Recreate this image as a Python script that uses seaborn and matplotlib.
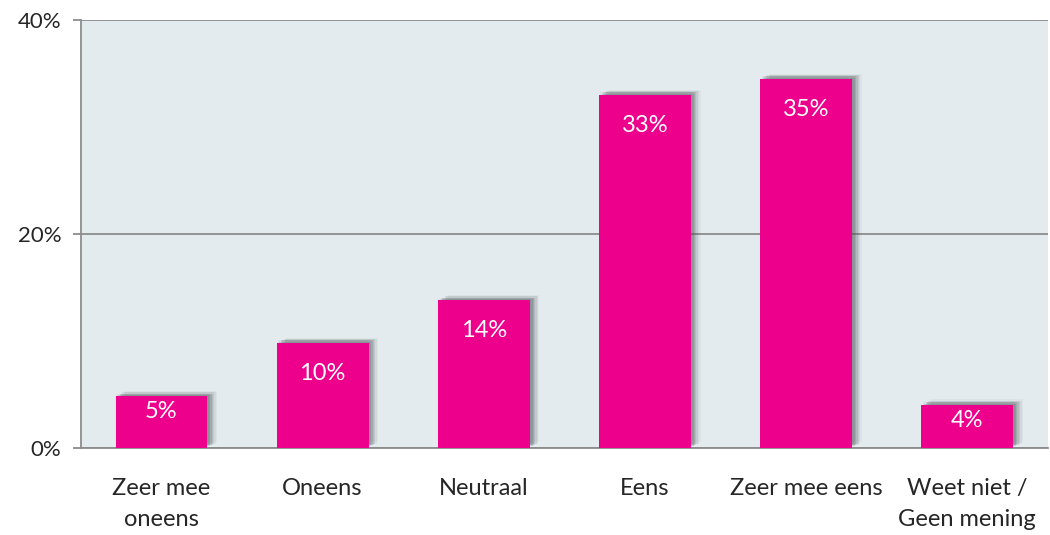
import pandas as pd
import numpy as np
import matplotlib
matplotlib.use('Agg')
import matplotlib.pyplot as plt
import matplotlib.patheffects as pe
import seaborn as sns

# data
categories = ['Zeer mee\noneens', 'Oneens', 'Neutraal', 'Eens', 'Zeer mee eens', 'Weet niet /\nGeen mening']
values = [4.8, 9.8, 13.8, 33.0, 34.5, 4.0]
labels = ['5%', '10%', '14%', '33%', '35%', '4%']
yticks = [0, 20, 40]
ytick_labels = ['0%', '20%', '40%']

df = pd.DataFrame({'cat': categories, 'val': values})

sns.set_style('white')
plt.rcParams['font.family'] = ['Lato', 'DejaVu Sans']

fig, ax = plt.subplots(figsize=(10.5, 5.35), dpi=100)
fig.subplots_adjust(left=0.077, right=0.998, top=0.962, bottom=0.163)

sns.barplot(data=df, x='cat', y='val', color='#EC008C', saturation=1, width=0.57,
            edgecolor='none', linewidth=0, ax=ax, zorder=3)

# soft shadow behind bars (stacked layers to fake a blur)
shadow = [pe.SimplePatchShadow(offset=(dx, dy), shadow_rgbFace='#4a5358', alpha=a)
          for dx, dy, a in [(7, 4, 0.05), (6, 3, 0.07), (5, 3, 0.1), (4, 2, 0.13),
                            (3, 2, 0.16), (2, 1, 0.2), (1, 2, 0.08)]]
for p in ax.patches:
    p.set_path_effects(shadow + [pe.Normal()])

for i, (v, t) in enumerate(zip(values, labels)):
    off = -22 if v > 8 else -11
    ax.annotate(t, (i, v), xytext=(0, off), textcoords='offset points',
                ha='center', va='center', color='white', fontsize=17, zorder=5)

ax.set_facecolor('#E3EBEF')
ax.set_ylim(0, 40)
ax.set_xlim(-0.5, 5.5)
ax.set_yticks(yticks)
ax.set_yticklabels(ytick_labels, fontsize=16)
ax.set_xticks(range(len(categories)))
ax.set_xticklabels(categories, fontsize=17, linespacing=1.55)
ax.tick_params(axis='x', length=0, pad=22)
ax.tick_params(axis='y', length=6, color='#8c8c8c', width=1.3, left=True, pad=8)
ax.yaxis.grid(True, color='#8c8c8c', linewidth=1.3, zorder=1)
ax.set_axisbelow(True)
for s in ['top', 'right']:
    ax.spines[s].set_visible(False)
for s in ['left', 'bottom']:
    ax.spines[s].set_color('#8c8c8c')
    ax.spines[s].set_linewidth(1.3)
ax.set_xlabel('')
ax.set_ylabel('')

plt.savefig('out.png', dpi=100)
